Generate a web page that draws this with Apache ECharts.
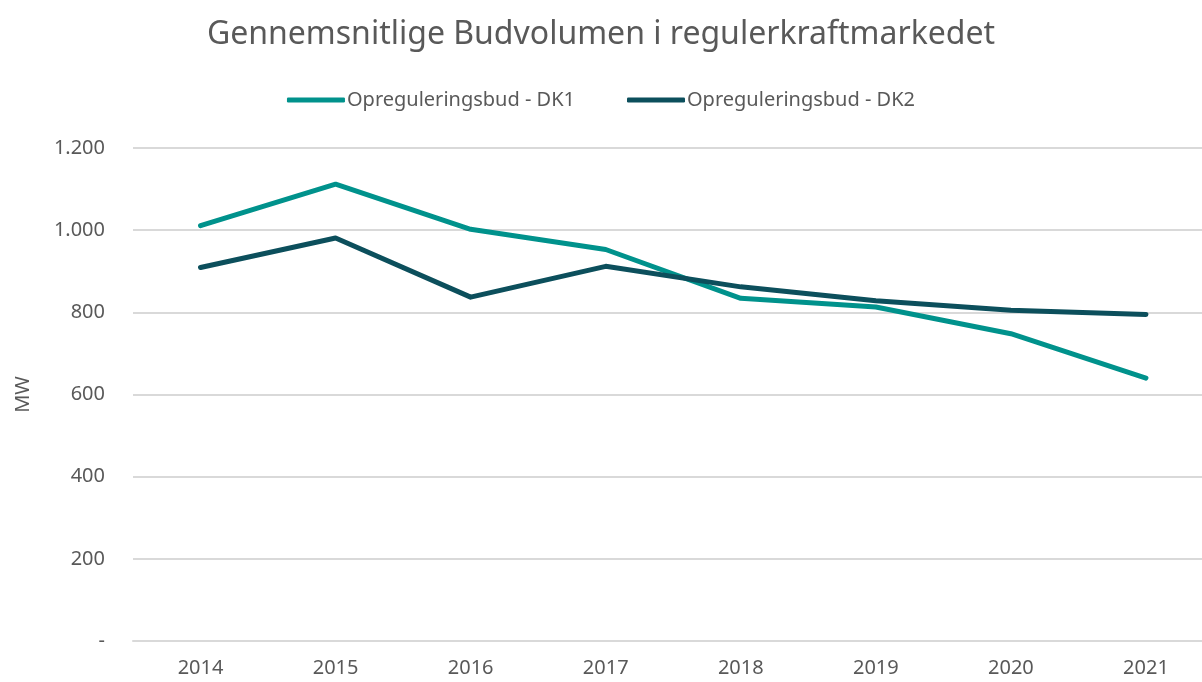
<!DOCTYPE html>
<html>
<head>
<meta charset="utf-8">
<script src="https://cdn.jsdelivr.net/npm/echarts@6/dist/echarts.min.js"></script>
<style>
  html, body { margin: 0; padding: 0; background: #fff; }
  #chart { width: 1202px; height: 682px; }
</style>
</head>
<body>
<div id="chart"></div>
<script>
// data
var years = [2014, 2015, 2016, 2017, 2018, 2019, 2020, 2021];
var dk1 = [1011, 1112, 1002, 953, 834, 813, 748, 640];
var dk2 = [909, 981, 837, 912, 862, 828, 805, 795];
var seriesNames = ['Opreguleringsbud - DK1', 'Opreguleringsbud - DK2'];

window.onload = function () {
    var myChart = echarts.init(document.getElementById('chart'));
    var font = 'Noto Sans, sans-serif';
    var grey = '#595959';

    // pair up years with values (x axis is a value axis so the plot can run past the right edge)
    function pairs(vals) {
        return years.map(function (y, i) { return [y, vals[i]]; });
    }

    var option = {
        backgroundColor: '#fff',
        title: {
            text: 'Gennemsnitlige Budvolumen i regulerkraftmarkedet',
            left: 'center',
            top: 14,
            textStyle: { color: grey, fontSize: 32, fontWeight: 'normal', fontFamily: font }
        },
        legend: {
            top: 85,
            left: 'center',
            icon: 'roundRect',
            itemWidth: 58,
            itemHeight: 5,
            itemGap: 52,
            textStyle: { color: grey, fontSize: 20, fontFamily: font, padding: [0, 0, 0, -3] },
            data: seriesNames
        },
        grid: {
            left: 133,
            right: 0,
            top: 148,
            bottom: 41,
            containLabel: false
        },
        xAxis: {
            type: 'value',
            min: 2013.5,
            max: 2021.415,
            splitLine: { show: false },
            axisTick: { show: false },
            axisLine: { onZero: false, lineStyle: { color: '#d9d9d9', width: 2 } },
            axisLabel: {
                color: grey,
                fontSize: 20,
                fontFamily: font,
                margin: 17,
                customValues: years,
                formatter: function (v) { return String(v); }
            }
        },
        yAxis: {
            type: 'value',
            min: 0,
            max: 1200,
            interval: 200,
            name: 'MW',
            nameLocation: 'middle',
            nameGap: 100,
            nameTextStyle: { color: grey, fontSize: 20, fontFamily: font },
            axisLine: { show: false },
            axisTick: { show: false },
            axisLabel: {
                color: grey,
                fontSize: 20,
                fontFamily: font,
                margin: 28,
                formatter: function (v) {
                    if (v === 0) return '-';
                    return String(v).replace(/\B(?=(\d{3})+(?!\d))/g, '.');
                }
            },
            splitLine: { lineStyle: { color: '#d9d9d9', width: 2 } }
        },
        series: [
            {
                name: seriesNames[0],
                type: 'line',
                data: pairs(dk1),
                showSymbol: false,
                symbol: 'none',
                lineStyle: { color: '#00928C', width: 5, cap: 'round', join: 'round' },
                itemStyle: { color: '#00928C' }
            },
            {
                name: seriesNames[1],
                type: 'line',
                data: pairs(dk2),
                showSymbol: false,
                symbol: 'none',
                lineStyle: { color: '#0C4F5C', width: 5, cap: 'round', join: 'round' },
                itemStyle: { color: '#0C4F5C' }
            }
        ]
    };

    myChart.setOption(option);
};
</script>
</body>
</html>
